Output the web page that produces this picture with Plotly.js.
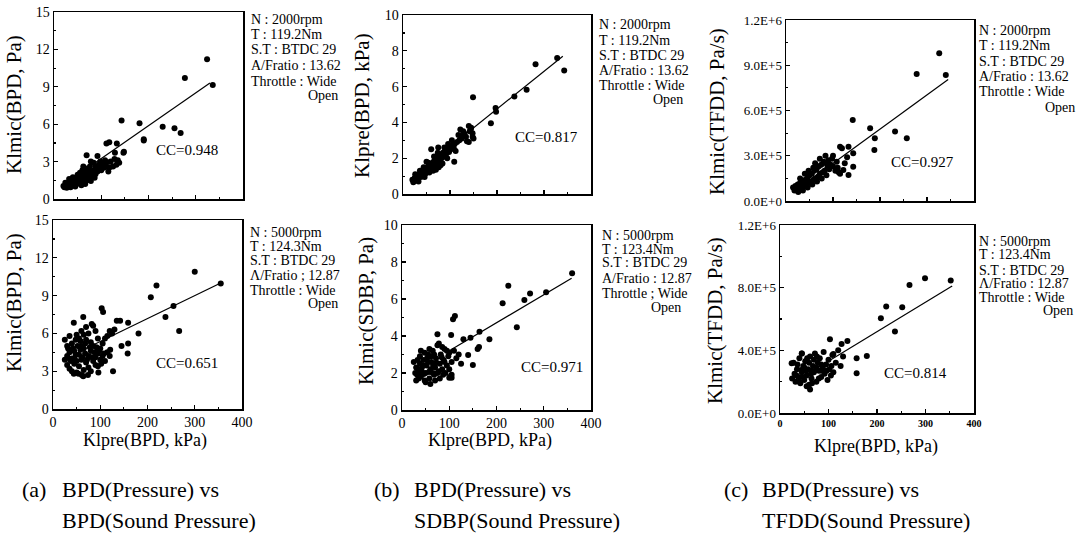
<!DOCTYPE html>
<html><head><meta charset="utf-8">
<script src="https://cdn.plot.ly/plotly-3.0.1.min.js"></script>
<style>html,body{margin:0;padding:0;background:#fff}#chart{width:1090px;height:533px}</style>
</head><body><div id="chart"></div>
<script>
// ---------- (a) top: N 2000rpm, Klpre(BPD) vs Klmic(BPD) ----------
const a1x = [324,277,336,143,181,230,255,268,190,190,111,117,133,69,92,129,147,148,
  104,110,118,125,132,138,135,128,120,112,100,95,88,84,78,76,72,68,64,60,56,62,66,70,74,80,
  50,52,46,44,40,38,36,34,30,28,25,22,20,24,32,42,48,54,58,64,70,76,82,88,92,96,100,86,78,66,58,45,35,27,40,50,60,55,62,90,105,108,98,115,85];
const a1y = [11.2,9.7,9.15,6.3,6.07,5.8,5.67,5.3,4.8,4.7,4.45,4.55,4.45,3.5,3.45,3.7,3.7,3.8,
  2.7,2.6,2.55,2.6,2.75,2.9,3.1,3.2,3.0,2.95,2.9,2.75,2.6,2.9,3.0,2.6,2.4,2.2,2.5,2.0,1.8,1.7,1.9,1.8,2.0,2.2,
  1.5,1.8,1.4,1.6,1.3,1.5,1.2,1.35,1.1,1.25,1.0,0.95,1.05,1.3,1.6,1.15,1.2,1.3,1.45,1.35,1.5,1.6,1.8,2.0,2.2,2.4,2.3,1.7,1.45,1.2,1.1,1.0,0.95,0.9,1.75,1.95,2.3,2.1,2.6,2.5,2.5,3.1,3.0,2.2,2.3];
const a1fitX = [15,330];
const a1fitY = [1.0,9.3];

// ---------- (a) bottom: N 5000rpm ----------
const a2x = [300,355,219,207,255,238,267,181,159,103,106,135,142,64,44,82,145,159,158,121,61,96,127,
  25,30,35,40,45,50,55,60,65,70,75,80,85,90,95,100,105,110,115,120,125,130,30,35,40,45,50,55,60,65,70,75,80,85,90,40,45,50,55,60,65,70,75,80,30,25,35,95,100,105,110,115,120,85,90,95,38,42,48,52,58,62,68,72,78,82,88,92,98,102,108,48,58,68,32,36,44,54,64,74];
const a2y = [10.9,9.97,9.8,8.86,8.17,7.3,6.2,6.0,6.85,8.0,7.7,7.0,7.0,7.3,6.85,6.75,5.0,5.2,4.4,4.7,2.7,2.9,3.0,
  5.5,5.0,4.5,5.2,4.0,3.8,4.3,5.0,4.8,5.5,4.2,4.6,5.0,3.5,4.4,4.8,5.2,5.6,5.8,6.2,6.0,6.3,3.5,3.2,3.0,3.6,2.9,3.4,3.9,3.1,3.7,3.3,3.0,3.8,4.1,4.0,4.6,5.9,5.6,6.2,5.9,6.5,6.0,5.3,4.2,3.9,5.8,3.4,3.9,4.2,3.8,4.5,4.2,6.6,6.2,5.6,3.8,4.8,4.3,5.0,4.7,4.1,4.4,3.9,4.9,4.1,4.5,4.9,4.6,3.6,4.4,5.5,5.4,5.2,4.8,3.9,2.8,2.8,2.6,2.7];
const a2fitX = [64,355];
const a2fitY = [4.7,10.0];

// ---------- (b) top: N 2000rpm, Klpre(BPD) vs Klpre(BPD) ----------
const b1x = [328,282,343,263,237,149,197,198,187,142,148,130,124,140,75,109,
  20,22,25,28,30,32,35,38,40,42,45,48,50,52,55,58,60,62,65,68,70,72,75,78,80,82,85,88,90,92,95,98,100,102,105,108,110,115,120,125,
  66,56,46,36,26,74,84,94,60,50,76,88,104,112,118,128,134,144,148,150,136,122,140,145,33,44,64,70,80,54,96];
const b1y = [7.6,7.25,6.9,5.83,5.45,5.4,4.8,4.6,3.95,3.5,3.2,3.4,3.2,2.9,2.6,1.8,
  0.8,0.65,0.9,0.75,1.0,0.85,1.1,0.95,1.2,1.05,1.35,1.15,1.4,1.25,1.55,1.4,1.7,1.5,1.8,1.6,1.95,1.75,2.05,1.85,2.2,2.0,2.3,2.1,2.45,2.25,2.55,2.35,2.6,2.5,2.7,2.55,2.8,2.9,3.0,3.1,
  2.1,1.2,0.95,1.3,1.1,2.3,1.7,2.0,2.5,1.8,1.5,2.6,3.0,2.4,3.3,3.5,3.2,3.6,3.4,3.1,2.95,3.6,3.8,3.7,0.7,1.5,1.3,1.35,1.6,1.75,2.8];
const b1fitX = [20,340];
const b1fitY = [0.95,7.7];

// ---------- (b) bottom: N 5000rpm, Klpre(BPD) vs Klmic(SDBP) ----------
const b2x = [360,225,271,259,305,213,243,112,108,164,185,104,75,130,145,160,163,140,150,102,105,87,
  25,28,30,32,35,38,40,42,45,48,50,52,55,58,60,62,65,68,70,72,75,78,80,82,85,88,90,92,95,98,100,105,110,115,120,125,
  40,45,50,55,60,65,70,75,80,35,30,38,48,58,62,68,78,85,90,95,100,105,100,57,43,33,53,73,66,84,46,36];
const b2y = [7.39,6.72,6.3,5.95,6.36,5.77,4.47,5.08,4.9,4.23,3.82,4.05,4.1,3.82,3.9,3.3,3.4,2.97,2.43,1.8,1.75,1.9,
  2.6,2.0,2.3,1.9,2.2,2.5,1.8,2.1,2.7,1.6,2.0,2.4,3.0,1.7,2.2,2.6,3.2,1.9,2.3,2.8,3.5,2.1,2.5,3.0,2.2,2.7,3.3,2.0,2.4,2.9,3.1,2.6,3.2,2.8,3.0,2.5,
  3.2,2.4,1.5,2.6,1.4,2.0,1.6,2.0,1.7,1.7,1.6,2.9,3.1,3.3,2.9,3.0,3.6,3.4,2.6,3.2,2.2,1.9,1.75,2.05,2.35,2.7,2.8,2.55,2.4,2.85,1.95,1.95];
const b2fitX = [100,359];
const b2fitY = [3.2,7.12];

// ---------- (c) top: N 2000rpm, Klpre(BPD) vs Klmic(TFDD) ----------
const c1x = [326,340,278,142,179,232,257,189,188,
  15,18,20,22,25,28,30,32,35,38,40,42,45,48,50,52,55,58,60,62,65,68,70,72,75,78,80,82,85,88,90,92,95,98,100,105,108,110,112,
  26,36,46,56,66,76,86,48,58,62,72,84,100,30,40,115,119,133,143,130,143,125,133,115,122];
const c1y = [9.79e5,8.35e5,8.42e5,5.37e5,4.82e5,4.6e5,4.16e5,4.16e5,3.38e5,
  0.9e5,0.7e5,1.0e5,0.8e5,1.1e5,0.75e5,1.2e5,0.9e5,1.3e5,1.0e5,1.4e5,1.1e5,1.5e5,1.2e5,1.7e5,1.3e5,1.8e5,1.4e5,2.0e5,1.5e5,2.1e5,1.6e5,2.3e5,1.8e5,2.4e5,1.9e5,2.6e5,2.0e5,2.5e5,2.2e5,2.7e5,2.1e5,2.4e5,2.8e5,2.3e5,2.0e5,2.6e5,2.2e5,1.9e5,
  0.6e5,0.7e5,0.9e5,1.1e5,1.3e5,1.5e5,1.7e5,2.0e5,2.2e5,2.5e5,2.8e5,3.0e5,3.0e5,1.5e5,1.8e5,3.6e5,3.5e5,3.6e5,3.16e5,2.9e5,2.27e5,2.5e5,1.72e5,1.8e5,2.05e5];
const c1fitX = [25,345];
const c1fitY = [0.8e5,8.05e5];

// ---------- (c) bottom: N 5000rpm, Klpre(BPD) vs Klmic(TFDD) ----------
const c2x = [299,267,352,219,252,208,237,103,139,127,179,158,158,110,62,24,45,
  25,28,30,32,35,38,40,42,45,48,50,52,55,58,60,62,65,68,70,72,75,78,80,82,85,88,90,92,95,98,100,102,105,108,110,115,120,125,130,
  40,45,50,55,60,65,70,75,80,85,36,46,56,66,76,86,96,106,44,34,54,64];
const c2y = [8.6e5,8.17e5,8.45e5,6.8e5,6.75e5,6.05e5,5.2e5,4.7e5,4.6e5,4.4e5,3.64e5,3.5e5,2.53e5,3.77e5,1.5e5,3.17e5,3.8e5,
  2.2e5,3.2e5,2.5e5,2.0e5,2.8e5,2.3e5,3.5e5,1.9e5,2.6e5,3.0e5,2.1e5,3.3e5,2.4e5,2.8e5,1.8e5,3.6e5,2.2e5,3.0e5,2.6e5,3.8e5,2.0e5,3.2e5,2.7e5,3.5e5,2.3e5,2.9e5,3.9e5,2.5e5,3.1e5,2.1e5,3.4e5,2.8e5,2.4e5,3.7e5,2.6e5,3.2e5,4.0e5,3.0e5,3.6e5,
  2.0e5,3.8e5,2.9e5,1.7e5,3.2e5,2.7e5,3.4e5,2.9e5,2.2e5,3.1e5,3.1e5,2.3e5,3.5e5,1.9e5,3.6e5,2.7e5,2.7e5,3.0e5,2.75e5,2.4e5,2.7e5,2.5e5];
const c2fitX = [70,355];
const c2fitY = [2.75e5,8.1e5];

// ---------- text ----------
const yTitles = ["Klmic(BPD, Pa)","Klmic(BPD, Pa)","Klpre(BPD, kPa)","Klmic(SDBP, Pa)","Klmic(TFDD, Pa/s)","Klmic(TFDD, Pa/s)"];
const xTitle = "Klpre(BPD, kPa)";
const ccLabels = ["CC=0.948","CC=0.651","CC=0.817","CC=0.971","CC=0.927","CC=0.814"];
const info2000 = ["N : 2000rpm","T : 119.2Nm","S.T : BTDC 29","A/Fratio : 13.62","Throttle : Wide","Open"];
const info5000a = ["N : 5000rpm","T : 124.3Nm","S.T : BTDC 29","\u039B/Fratio ; 12.87","Throttle : Wide","Open"];
const info5000b = ["N : 5000rpm","T : 123.4Nm","S.T : BTDC 29","A/Fratio : 12.87","Throttle ; Wide","Open"];
const info5000c = ["N : 5000rpm","T : 123.4Nm","S.T : BTDC 29","\u039B/Fratio : 12.87","Throttle : Wide","Open"];
const captions = [["(a)","BPD(Pressure) vs","BPD(Sound Pressure)"],["(b)","BPD(Pressure) vs","SDBP(Sound Pressure)"],["(c)","BPD(Pressure) vs","TFDD(Sound Pressure)"]];
const yTickA = [0,3,6,9,12,15];
const yTickB = [0,2,4,6,8,10];
const yTickC1 = [0,3e5,6e5,9e5,1.2e6];
const yTickC1Text = ["0.0E+0","3.0E+5","6.0E+5","9.0E+5","1.2E+6"];
const yTickC2 = [0,4e5,8e5,1.2e6];
const yTickC2Text = ["0.0E+0","4.0E+5","8.0E+5","1.2E+6"];
const xTicks = [0,100,200,300,400];

// ---------- layout geometry (pixel boxes) ----------
const W = 1090, H = 533;
const FONT = "Liberation Serif";
const boxes = [
  {l:54,r:243,t:12,b:199},
  {l:53,r:242,t:220,b:409},
  {l:403,r:591,t:15,b:194},
  {l:402,r:591,t:225,b:410},
  {l:786,r:974,t:20,b:201},
  {l:780,r:974,t:225,b:413}
];
const series = [
  [a1x,a1y,a1fitX,a1fitY],[a2x,a2y,a2fitX,a2fitY],
  [b1x,b1y,b1fitX,b1fitY],[b2x,b2y,b2fitX,b2fitY],
  [c1x,c1y,c1fitX,c1fitY],[c2x,c2y,c2fitX,c2fitY]
];
const yCfg = [
  {range:[0,15],tv:yTickA,tt:yTickA.map(String),minor:1.5},
  {range:[0,15],tv:yTickA,tt:yTickA.map(String),minor:1.5},
  {range:[0,10],tv:yTickB,tt:yTickB.map(String),minor:1},
  {range:[0,10],tv:yTickB,tt:yTickB.map(String),minor:1},
  {range:[0,1.2e6],tv:yTickC1,tt:yTickC1Text,minor:1.5e5},
  {range:[0,1.2e6],tv:yTickC2,tt:yTickC2Text,minor:2e5}
];
const yTitlePos = [[14,105],[14,303],[362,106],[366,311],[717,112],[715,321]];
const ccPos = [[187,150],[187,363],[547,137],[552,367],[922,162],[915,373]];
const infoSets = [info2000,info5000a,info2000,info5000b,info2000,info5000c];
const infoPos = [
  {x:249,ys:[19,34,50,66,81,96],xr:340},
  {x:248,ys:[232,246,260,275,290,303],xr:340},
  {x:597,ys:[25,41,55,71,85,100],xr:685},
  {x:600,ys:[235,249,263,278,293,307],xr:683},
  {x:977,ys:[30,46,61,76,92,107],xr:1077},
  {x:977,ys:[242,255,270,283,297,310],xr:1075}
];

const traces = [];
const layout = {
  width:W, height:H, margin:{l:0,r:0,t:0,b:0},
  paper_bgcolor:'#fff', plot_bgcolor:'#fff', showlegend:false,
  font:{family:FONT,color:'#000'},
  annotations:[]
};
boxes.forEach((bx,i)=>{
  const n = i+1, xs = n===1?'':n, ya = 'y'+(n===1?'':n), xa = 'x'+(n===1?'':n);
  const s = series[i];
  traces.push({type:'scatter',mode:'markers',x:s[0],y:s[1],xaxis:xa,yaxis:ya,
    marker:{color:'#000',size:6},hoverinfo:'skip',cliponaxis:false});
  traces.push({type:'scatter',mode:'lines',x:s[2],y:s[3],xaxis:xa,yaxis:ya,
    line:{color:'#000',width:1.2},hoverinfo:'skip'});
  const bottomRow = (i%2===1);
  layout['xaxis'+xs] = {
    domain:[bx.l/W,bx.r/W], range:[0,400], anchor:ya,
    showline:true, mirror:true, linecolor:'#000', linewidth:1.5,
    ticks:'inside', ticklen:4, tickcolor:'#000', tickwidth:1.2,
    tickvals:xTicks, ticktext:xTicks.map(String),
    showticklabels:bottomRow, showgrid:false, zeroline:false,
    tickfont:{family:FONT,size:(i===5?10:14),color:'#000',weight:(i===5?'bold':'normal')},
    minor:{ticks:'inside',ticklen:2,tickcolor:'#000',dtick:50,tick0:0,showgrid:false},
    fixedrange:true
  };
  const yc = yCfg[i];
  layout['yaxis'+xs] = {
    domain:[1-bx.b/H,1-bx.t/H], range:yc.range, anchor:xa,
    showline:true, mirror:true, linecolor:'#000', linewidth:1.5,
    ticks:'inside', ticklen:4, tickcolor:'#000', tickwidth:1.2,
    tickvals:yc.tv, ticktext:yc.tt, showgrid:false, zeroline:false,
    tickfont:{family:FONT,size:(i>=4?13:14),color:'#000'},
    minor:{ticks:'inside',ticklen:2,tickcolor:'#000',dtick:yc.minor,tick0:0,showgrid:false},
    fixedrange:true
  };
  layout.annotations.push({xref:'paper',yref:'paper',x:yTitlePos[i][0]/W,y:1-yTitlePos[i][1]/H,
    text:yTitles[i],textangle:-90,showarrow:false,xanchor:'center',yanchor:'middle',
    font:{family:FONT,size:21,color:'#000'}});
  layout.annotations.push({xref:'paper',yref:'paper',x:ccPos[i][0]/W,y:1-ccPos[i][1]/H,
    text:ccLabels[i],showarrow:false,xanchor:'center',yanchor:'middle',
    font:{family:FONT,size:15,color:'#000'}});
  const ip = infoPos[i];
  infoSets[i].forEach((t,k)=>{
    const last = (k===infoSets[i].length-1);
    layout.annotations.push({xref:'paper',yref:'paper',
      x:(last?ip.xr:ip.x)/W, y:1-ip.ys[k]/H, text:t, showarrow:false,
      xanchor:last?'right':'left', yanchor:'middle',
      font:{family:FONT,size:14,color:'#000'}});
  });
});
[[145,440],[490,440],[876,446]].forEach(p=>{
  layout.annotations.push({xref:'paper',yref:'paper',x:p[0]/W,y:1-p[1]/H,text:xTitle,
    showarrow:false,xanchor:'center',yanchor:'middle',font:{family:FONT,size:18,color:'#000'}});
});
const capX = [[20,60],[372,412],[722,760]];
captions.forEach((c,i)=>{
  layout.annotations.push({xref:'paper',yref:'paper',x:capX[i][0]/W,y:1-490/H,text:c[0],showarrow:false,
    xanchor:'left',yanchor:'middle',font:{family:FONT,size:22,color:'#000'}});
  layout.annotations.push({xref:'paper',yref:'paper',x:capX[i][1]/W,y:1-490/H,text:c[1],showarrow:false,
    xanchor:'left',yanchor:'middle',font:{family:FONT,size:22,color:'#000'}});
  layout.annotations.push({xref:'paper',yref:'paper',x:capX[i][1]/W,y:1-520/H,text:c[2],showarrow:false,
    xanchor:'left',yanchor:'middle',font:{family:FONT,size:22,color:'#000'}});
});
Plotly.newPlot('chart',traces,layout,{displayModeBar:false,staticPlot:true});
</script></body></html>
